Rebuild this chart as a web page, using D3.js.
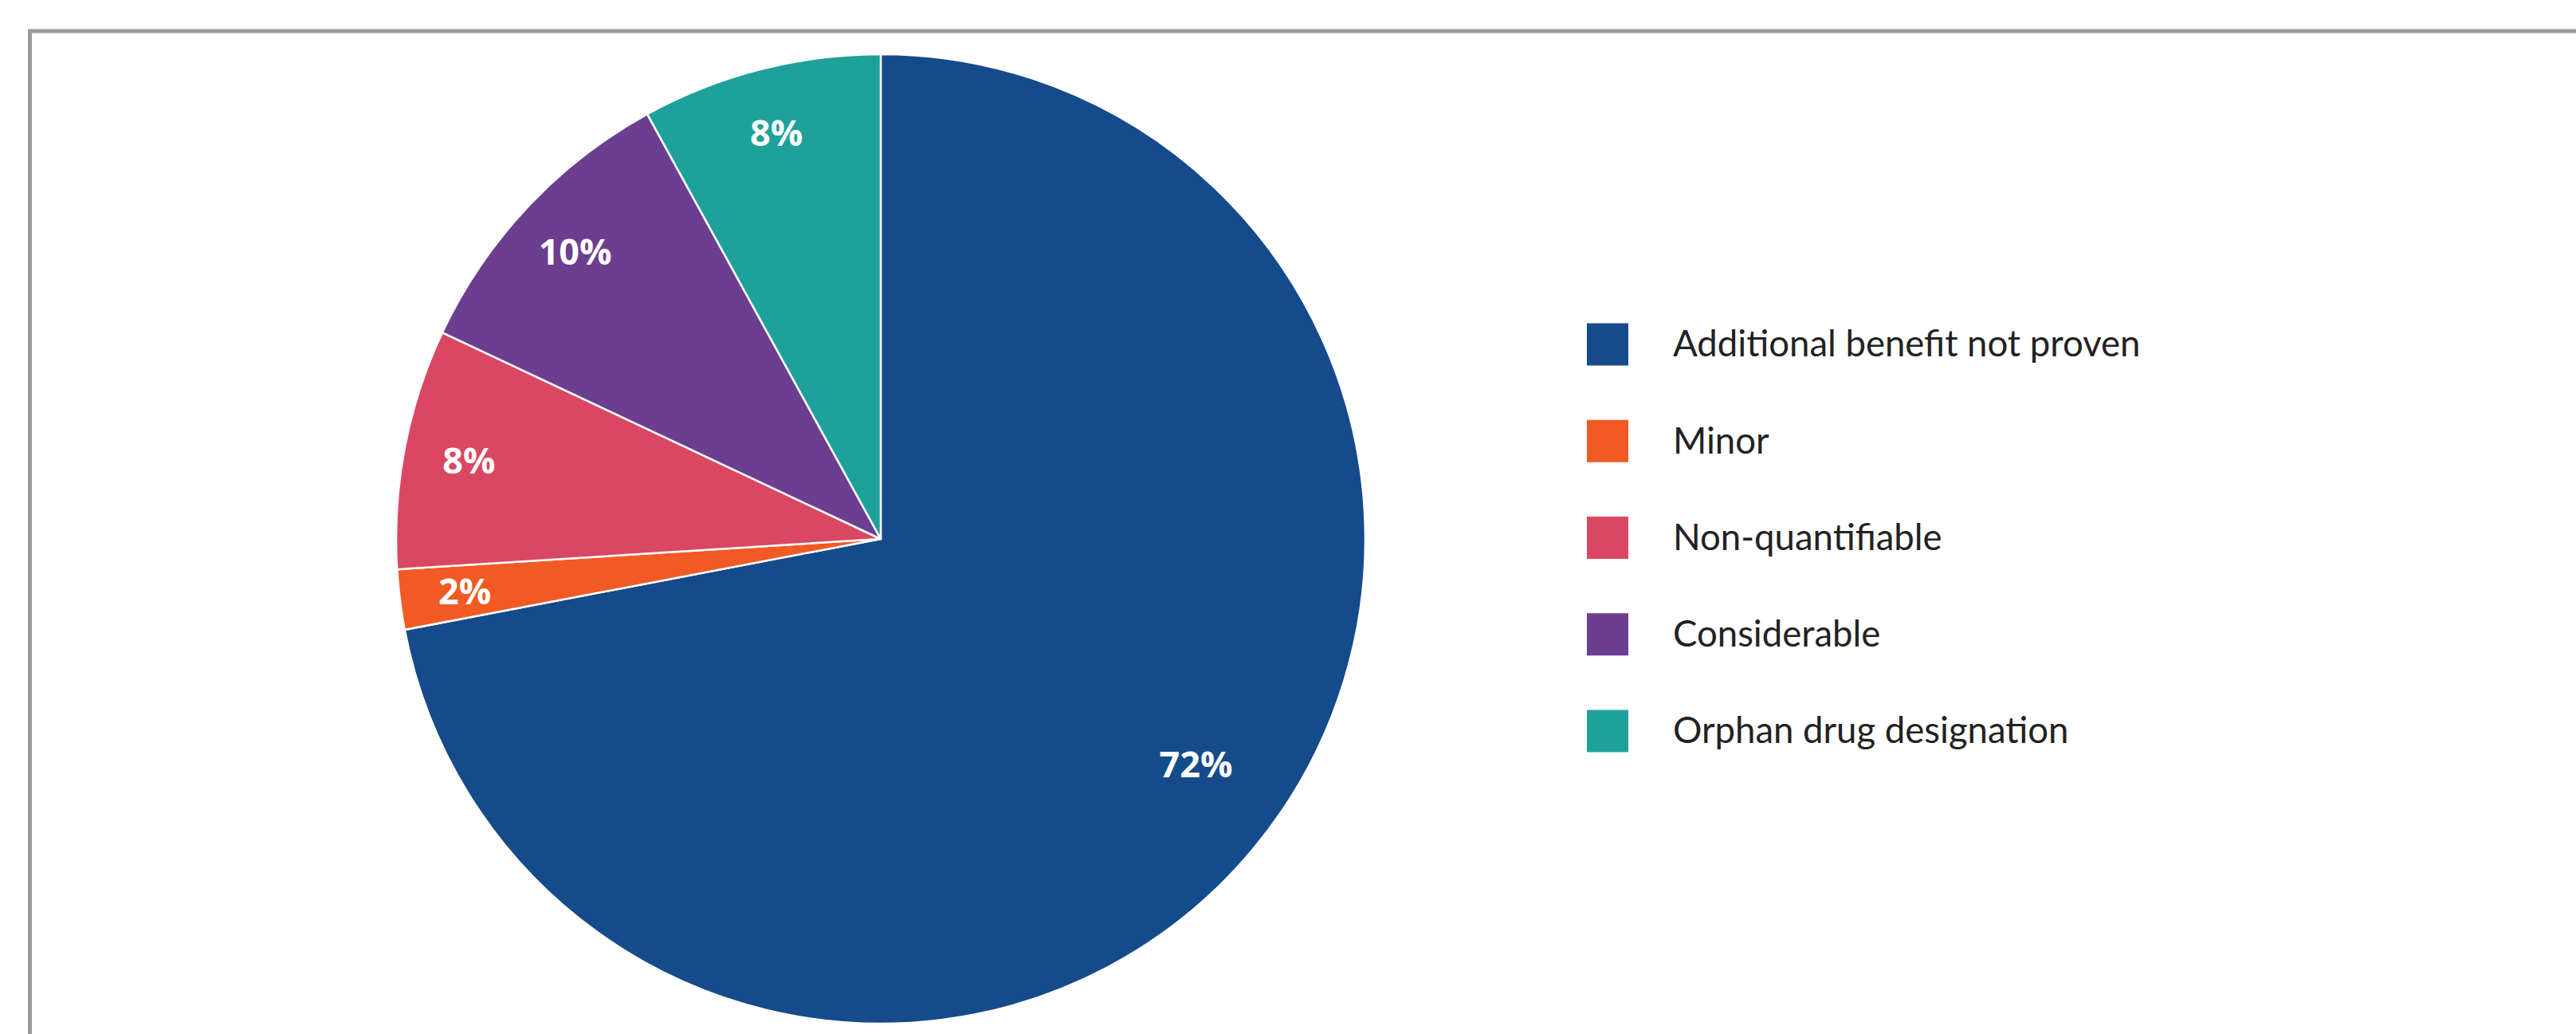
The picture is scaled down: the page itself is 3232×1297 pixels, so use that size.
<!DOCTYPE html>
<html>
<head>
<meta charset="utf-8">
<script src="https://cdn.jsdelivr.net/npm/d3@7"></script>
<style>
  html, body { margin: 0; padding: 0; background: #ffffff; overflow: hidden; }
</style>
</head>
<body>
<div id="chart"></div>
<script>
// ── DATA ──
const categories = [
  "Additional benefit not proven",
  "Minor",
  "Non-quantifiable",
  "Considerable",
  "Orphan drug designation",
];
const shares = [72, 2, 8, 10, 8];
const sliceColors = ["#154b8b", "#f15a24", "#da4763", "#6b3e8f", "#1fa19b"];

const width = 3232;
const height = 1297;

const svg = d3
  .select("#chart")
  .append("svg")
  .attr("width", width)
  .attr("height", height);

// frame (runs off the right and bottom edge)
svg
  .append("rect")
  .attr("x", 37.5)
  .attr("y", 39)
  .attr("width", width + 100)
  .attr("height", height + 100)
  .attr("fill", "none")
  .attr("stroke", "#9a9a9a")
  .attr("stroke-width", 5);

// ── PIE ──
const cx = 1105;
const cy = 676;
const radius = 608;

const slices = d3
  .pie()
  .sort(null)
  .value((d) => d)(shares);

const arc = d3.arc().innerRadius(0).outerRadius(radius);

const pieGroup = svg
  .append("g")
  .attr("transform", `translate(${cx},${cy})`);

pieGroup
  .selectAll("path")
  .data(slices)
  .enter()
  .append("path")
  .attr("d", arc)
  .attr("fill", (d, i) => sliceColors[i])
  .attr("stroke", "#ffffff")
  .attr("stroke-width", 2.5)
  .attr("stroke-linejoin", "round");

// big slice: label further in and pulled a bit towards the top
const labelPos = (d) => {
  const big = d.endAngle - d.startAngle > Math.PI;
  const r = big ? radius * 0.8 : radius * 0.865;
  const a = (d.startAngle + d.endAngle) / 2 - (big ? 0.07 : 0);
  return [Math.sin(a) * r, -Math.cos(a) * r];
};

pieGroup
  .selectAll("text")
  .data(slices)
  .enter()
  .append("text")
  .attr("x", (d) => labelPos(d)[0])
  .attr("y", (d) => labelPos(d)[1])
  .attr("text-anchor", "middle")
  .attr("dy", "0.36em")
  .attr("fill", "#ffffff")
  .style("font-family", "'Open Sans', sans-serif")
  .style("font-size", "45px")
  .style("font-weight", "700")
  .text((d) => d.data + "%");

// ── LEGEND ──
const legendY = d3
  .scalePoint()
  .domain(categories)
  .range([432, 917]);

const legend = svg
  .append("g")
  .selectAll("g")
  .data(categories)
  .enter()
  .append("g")
  .attr("transform", (d) => `translate(1991,${legendY(d)})`);

legend
  .append("rect")
  .attr("x", 0)
  .attr("y", -26.5)
  .attr("width", 52)
  .attr("height", 53)
  .attr("fill", (d, i) => sliceColors[i]);

legend
  .append("text")
  .attr("x", 108)
  .attr("y", 0)
  .attr("dy", "0.34em")
  .attr("fill", "#222222")
  .style("font-family", "Lato, sans-serif")
  .style("font-size", "45.5px")
  .text((d) => d);
</script>
</body>
</html>
